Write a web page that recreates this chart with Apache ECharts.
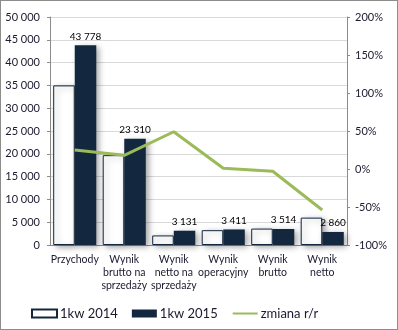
<!DOCTYPE html>
<html><head><meta charset="utf-8">
<script src="https://cdn.jsdelivr.net/npm/echarts@6/dist/echarts.min.js"></script>
<style>
html,body{margin:0;padding:0;background:#fff;}
#c{width:398px;height:330px;box-sizing:border-box;border:1px solid #8c8c8c;}
</style></head>
<body><div id="c"></div>
<script>
const categories = ["Przychody", "Wynik\nbrutto na\nsprzedaży", "Wynik\nnetto na\nsprzedaży", "Wynik\noperacyjny", "Wynik\nbrutto", "Wynik\nnetto"];
const values2014 = [35000, 19700, 2100, 3250, 3600, 6000];
const values2015 = [43778, 23310, 3131, 3411, 3514, 2860];
const changePct = [25, 18, 49, 1, -3, -54];
const leftTicks = { min: 0, max: 50000, interval: 5000 };
const rightTicks = { min: -100, max: 200, interval: 50 };

const FONT = 'Lato';
const TXT = '#1a1a2e';
const fmtNum = v => String(Math.round(v)).replace(/\B(?=(\d{3})+(?!\d))/g, ' ');

const chart = echarts.init(document.getElementById('c'));
chart.setOption({
  animation: false,
  textStyle: { fontFamily: FONT },
  grid: { left: 49, right: 50, top: 16, bottom: 84 },
  legend: {
    top: 301, left: 25, itemGap: 14, itemWidth: 25, itemHeight: 8,
    textStyle: { fontFamily: FONT, fontSize: 13, color: TXT, padding: [0, 0, 0, -2] },
    data: [
      { name: '1kw 2014', icon: 'rect' },
      { name: '1kw 2015', icon: 'rect' },
      { name: 'zmiana r/r', itemStyle: { opacity: 0 } }
    ]
  },
  xAxis: {
    type: 'category', data: categories,
    axisLine: { lineStyle: { color: '#8c8c8c' } },
    axisTick: { show: false },
    axisLabel: { fontFamily: FONT, fontSize: 10.5, color: TXT, lineHeight: 13, interval: 0, margin: 8 }
  },
  yAxis: [
    {
      type: 'value', min: leftTicks.min, max: leftTicks.max, interval: leftTicks.interval,
      axisLine: { show: true, lineStyle: { color: '#8c8c8c' } },
      axisTick: { show: true, length: 3, lineStyle: { color: '#8c8c8c' } },
      splitLine: { lineStyle: { color: '#d9d9d9' } },
      axisLabel: { fontFamily: FONT, fontSize: 11, color: TXT, margin: 10, formatter: fmtNum }
    },
    {
      type: 'value', min: rightTicks.min, max: rightTicks.max, interval: rightTicks.interval,
      axisLine: { show: true, lineStyle: { color: '#8c8c8c' } },
      axisTick: { show: true, length: 3, lineStyle: { color: '#8c8c8c' } },
      splitLine: { show: false },
      axisLabel: { fontFamily: FONT, fontSize: 11, color: TXT, margin: 8, formatter: v => v + '%' }
    }
  ],
  series: [
    {
      name: '1kw 2014', type: 'bar', data: values2014, barGap: '0%', barCategoryGap: '13%',
      itemStyle: { color: '#ffffff', borderColor: '#13273f', borderWidth: 1,
        shadowColor: 'rgba(0,0,0,0.35)', shadowBlur: 6, shadowOffsetX: 3, shadowOffsetY: 2 }
    },
    {
      name: '1kw 2015', type: 'bar', data: values2015,
      itemStyle: { color: '#13273f',
        shadowColor: 'rgba(0,0,0,0.35)', shadowBlur: 6, shadowOffsetX: 3, shadowOffsetY: 2 },
      label: { show: true, position: 'top', distance: 4, fontFamily: FONT, fontSize: 10, color: '#000', formatter: p => fmtNum(p.value) }
    },
    {
      name: 'zmiana r/r', type: 'line', yAxisIndex: 1, data: changePct,
      symbol: 'none', lineStyle: { color: '#9bbb59', width: 3 }, itemStyle: { color: '#9bbb59' }
    }
  ]
});
</script></body></html>
